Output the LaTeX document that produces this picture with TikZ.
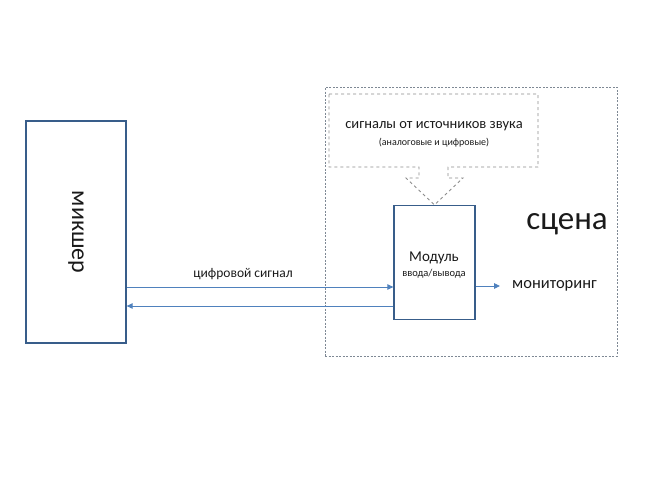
\documentclass[tikz,border=0pt]{standalone}
\usepackage{fontspec}
\setmainfont{Carlito}
\usetikzlibrary{arrows.meta,positioning}
\definecolor{boxblue}{HTML}{385D8A}
\definecolor{linkblue}{HTML}{4F81BD}
\definecolor{dashgray}{HTML}{8C8C8C}
\definecolor{dotgray}{HTML}{7E8894}
\definecolor{textgray}{HTML}{1A1A1A}

\begin{document}
\begin{tikzpicture}[x=1pt, y=-1pt,
    blok/.style={draw=boxblue, line width=1.3pt, fill=white, inner sep=0pt},
    svyaz/.style={-{Triangle[length=6pt,width=5.5pt]}, draw=linkblue, line width=0.9pt},
    nadpis/.style={text=textgray, inner sep=0pt}]
    \useasboundingbox (0,0) rectangle (650,487);

    % сцена
    \node[draw=dotgray, dash pattern=on 2pt off 1.5pt, line width=1pt, minimum width=292pt,
          minimum height=269pt, inner sep=0pt] (scene) at (471,221.5) {};
    \node[nadpis, font=\fontsize{33}{36}\selectfont] (scenename) at (567,224) {сцена};

    % блоки
    \node[blok, minimum width=100pt, minimum height=222pt] (mix) at (76,232) {};
    \node[nadpis, rotate=-90, font=\fontsize{24}{26}\selectfont] (mixname) at (mix.center) {микшер};
    \node[blok, minimum width=81pt, minimum height=114pt] (mod) at (434.5,262.5) {};
    \node[nadpis, font=\fontsize{15}{17}\selectfont] (modname) at (434,258) {Модуль};
    \node[nadpis, font=\fontsize{10.5}{12}\selectfont, below=5pt of modname] (modsub) {ввода/вывода};

    % источники звука (выноска)
    \draw[draw=dashgray, dashed, line width=0.9pt]
        (329,94) -- (538,94) -- (538,167) -- (448,167) -- (448,178) -- (463,178)
        -- (mod.north) -- (406,178) -- (419,178) -- (419,167) -- (329,167) -- cycle;
    \node[nadpis, font=\fontsize{14.5}{16}\selectfont] (src) at (434,126) {сигналы от источников звука};
    \node[nadpis, font=\fontsize{10}{12}\selectfont] (srcsub) at (434,143) {(аналоговые и цифровые)};

    % цифровой сигнал
    \coordinate (there) at (0,287);
    \coordinate (back) at (0,306);
    \draw[svyaz] (mix.east |- there) -- (mod.west |- there);
    \draw[svyaz] (mod.west |- back) -- (mix.east |- back);
    \node[nadpis, font=\fontsize{13.5}{15}\selectfont] (sig) at (243,274) {цифровой сигнал};

    % мониторинг
    \coordinate (mon) at (500,286);
    \draw[svyaz] (mod.east |- mon) -- (mon);
    \node[nadpis, font=\fontsize{16.5}{18}\selectfont, right=12pt of mon] (monname) {мониторинг};
\end{tikzpicture}
\end{document}
